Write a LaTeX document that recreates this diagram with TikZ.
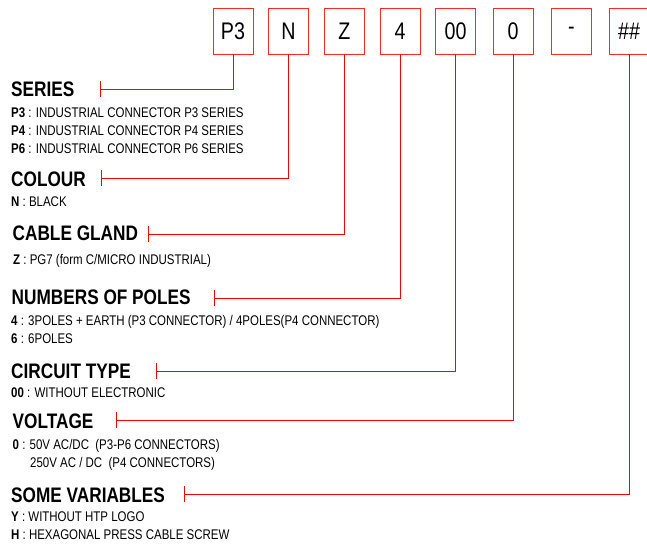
\documentclass[tikz,border=0pt]{standalone}
\usepackage{fontspec}
\setmainfont{Liberation Sans}[FakeStretch=0.82]
\usetikzlibrary{arrows.meta}

\begin{document}
\begin{tikzpicture}[
        x = 1pt, y = -1pt, % pixel like units, y downwards
        codebox/.style = {draw = red!85, line width = 0.9pt,
            minimum width = 40pt, minimum height = 46pt, inner sep = 0pt,
            font = \fontsize{24}{26}\selectfont},
        heading/.style = {anchor = base west, inner sep = 0pt,
            font = \fontsize{21}{23}\selectfont\bfseries},
        desc/.style = {anchor = base west, inner sep = 0pt,
            font = \fontsize{14}{16}\selectfont},
        link/.style = {draw = red, line width = 0.9pt, {Bar[width=16pt]}-}
    ]

    \useasboundingbox (0,0) rectangle (647,543);

    % code boxes
    \node[codebox] (bP3) at (233,31) {P3};
    \node[codebox] (bN) at (288.5,31) {N};
    \node[codebox] (bZ) at (344.5,31) {Z};
    \node[codebox] (bPoles) at (400,31) {4};
    \node[codebox] (bCircuit) at (455.5,31) {00};
    \node[codebox] (bVolt) at (513,31) {0};
    \node[codebox] (bDash) at (571.5,31) {-};
    \node[codebox] (bVar) at (629,31) {\#\#};

    % headings
    \node[heading] (hSeries) at (11,96) {SERIES};
    \node[heading] (hColour) at (11,186) {COLOUR};
    \node[heading] (hGland) at (12.5,240.5) {CABLE GLAND};
    \node[heading] (hPoles) at (11.5,304) {NUMBERS OF POLES};
    \node[heading] (hCircuit) at (11,378) {CIRCUIT TYPE};
    \node[heading] (hVolt) at (12.5,428) {VOLTAGE};
    \node[heading] (hVar) at (11,502) {SOME VARIABLES};

    % descriptions
    \node[desc] (dP3) at (11,117) {\textbf{P3} : INDUSTRIAL CONNECTOR P3 SERIES};
    \node[desc] (dP4) at (11,135.5) {\textbf{P4} : INDUSTRIAL CONNECTOR P4 SERIES};
    \node[desc] (dP6) at (11,153) {\textbf{P6} : INDUSTRIAL CONNECTOR P6 SERIES};
    \node[desc] (dN) at (11,206.5) {\textbf{N} : BLACK};
    \node[desc] (dZ) at (13,264) {\textbf{Z} : PG7 (form C/MICRO INDUSTRIAL)};
    \node[desc] (d4) at (11,325.5) {\textbf{4} : 3POLES + EARTH (P3 CONNECTOR) / 4POLES(P4 CONNECTOR)};
    \node[desc] (d6) at (11,343) {\textbf{6} : 6POLES};
    \node[desc] (d00) at (11,397) {\textbf{00} : WITHOUT ELECTRONIC};
    \node[desc] (d0) at (12.5,449) {\textbf{0} : 50V AC/DC\ \ (P3-P6 CONNECTORS)};
    \node[desc] (d250) at (30,467) {250V AC / DC\ \ (P4 CONNECTORS)};
    \node[desc] (dY) at (11,521.5) {\textbf{Y} : WITHOUT HTP LOGO};
    \node[desc] (dH) at (11,539) {\textbf{H} : HEXAGONAL PRESS CABLE SCREW};

    % tick points
    \coordinate (tSeries) at (100,89);
    \coordinate (tColour) at (101,178);
    \coordinate (tGland) at (148,234);
    \coordinate (tPoles) at (214,298);
    \coordinate (tCircuit) at (156,371);
    \coordinate (tVolt) at (116,420);
    \coordinate (tVar) at (184,494);

    % connectors
    \draw[link] (tSeries) -| (bP3.south);
    \draw[link] (tColour) -| (bN.south);
    \draw[link] (tGland) -| (bZ.south);
    \draw[link] (tPoles) -| (bPoles.south);
    \draw[link] (tCircuit) -| (bCircuit.south);
    \draw[link] (tVolt) -| (bVolt.south);
    \draw[link] (tVar) -| (bVar.south);

\end{tikzpicture}
\end{document}
